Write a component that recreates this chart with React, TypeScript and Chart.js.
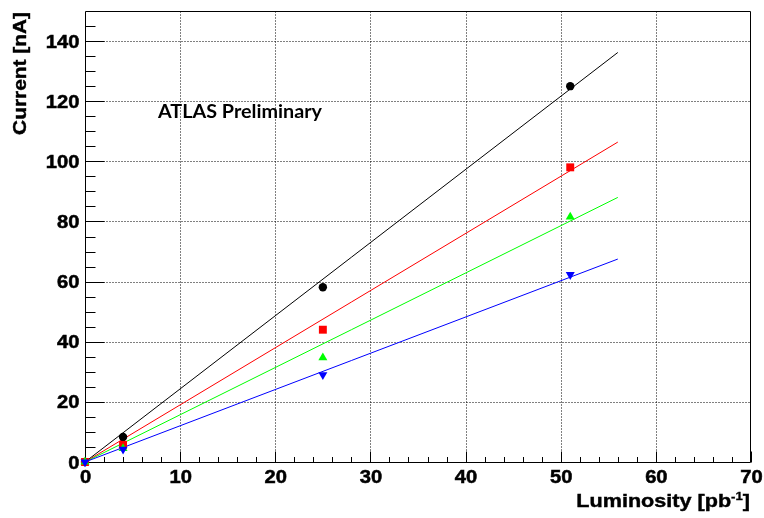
import React, { useEffect, useRef } from "react";
import { Chart, registerables } from "chart.js";

Chart.register(...registerables);

// ---- data ----
const luminosity = [0, 4, 25, 51];
const currentBlack = [0, 8.3, 58.1, 125];
const currentRed = [0, 5.7, 44, 98];
const currentGreen = [0, 4.5, 34.7, 81.5];
const currentBlue = [0, 4.2, 29, 62.3];

const fitRange = [0, 56];
const fitBlack = [0, 136.2];
const fitRed = [0, 106.4];
const fitGreen = [0, 88];
const fitBlue = [0, 67.5];

const xTickLabels = [0, 10, 20, 30, 40, 50, 60, 70];
const yTickLabels = [0, 20, 40, 60, 80, 100, 120, 140];

const xTitle = "Luminosity [pb";
const xTitleSup = "-1";
const yTitle = "Current [nA]";
const atlasLabel = "ATLAS Preliminary";

const toPts = (xs: number[], ys: number[]) => xs.map((x, i) => ({ x, y: ys[i] }));

const AXIS_FONT = '"Liberation Sans", Arial, sans-serif';
const STRETCH = 1.2;
const TICK_STRETCH = 1.12;

function stretchedText(
  ctx: CanvasRenderingContext2D,
  text: string,
  x: number,
  y: number,
  align: CanvasTextAlign,
  sx: number,
  heavy = 0
) {
  ctx.save();
  ctx.translate(x, y);
  ctx.scale(sx, 1);
  ctx.textAlign = align;
  ctx.textBaseline = "alphabetic";
  ctx.fillText(text, 0, 0);
  if (heavy > 0) {
    ctx.lineWidth = heavy;
    ctx.strokeStyle = ctx.fillStyle as string;
    ctx.strokeText(text, 0, 0);
  }
  ctx.restore();
}

const rootStyle = {
  id: "rootStyle",
  beforeDatasetsDraw(chart: any) {
    const ctx: CanvasRenderingContext2D = chart.ctx;
    const { left, right, top, bottom } = chart.chartArea;
    const xs = chart.scales.x;
    const ys = chart.scales.y;
    const L = Math.round(left) + 0.5;
    const R = Math.round(right) - 0.5;
    const T = Math.round(top) + 0.5;
    const B = Math.round(bottom) + 0.5;

    ctx.save();
    ctx.fillStyle = "#fff";
    ctx.fillRect(0, 0, chart.width, chart.height);

    // dotted grid
    ctx.strokeStyle = "#000";
    ctx.lineWidth = 1;
    ctx.setLineDash([1, 2]);
    ctx.beginPath();
    xTickLabels.forEach((v) => {
      const px = Math.round(xs.getPixelForValue(v)) + 0.5;
      if (px <= L + 1 || px >= R - 1) return;
      ctx.moveTo(px, T);
      ctx.lineTo(px, B);
    });
    yTickLabels.forEach((v) => {
      const py = Math.round(ys.getPixelForValue(v)) + 0.5;
      if (py >= B - 1 || py <= T + 1) return;
      ctx.moveTo(L, py);
      ctx.lineTo(R, py);
    });
    ctx.stroke();
    ctx.setLineDash([]);

    // frame
    ctx.beginPath();
    ctx.rect(L, T, R - L, B - T);
    ctx.stroke();

    // ticks
    ctx.beginPath();
    for (let v = 0; v < 150; v += 5) {
      const py = Math.round(ys.getPixelForValue(v)) + 0.5;
      const len = v % 20 === 0 ? 19 : 10;
      ctx.moveTo(L, py);
      ctx.lineTo(L + len, py);
    }
    for (let v = 0; v <= 70; v += 2) {
      const px = Math.round(xs.getPixelForValue(v)) + 0.5;
      const len = v % 10 === 0 ? 11 : 5.5;
      ctx.moveTo(px, B);
      ctx.lineTo(px, B - len);
    }
    ctx.stroke();

    // tick labels
    ctx.fillStyle = "#000";
    ctx.font = `bold 18px ${AXIS_FONT}`;
    yTickLabels.forEach((v) => {
      const py = ys.getPixelForValue(v);
      stretchedText(ctx, String(v), left - 5.5, py + 6.6, "right", TICK_STRETCH, 0.5);
    });
    xTickLabels.forEach((v) => {
      const px = xs.getPixelForValue(v);
      stretchedText(ctx, String(v), px + 0.5, bottom + 21, "center", TICK_STRETCH, 0.5);
    });

    // x title with superscript
    ctx.font = `bold 18px ${AXIS_FONT}`;
    const w1 = ctx.measureText(xTitle).width;
    const w3 = ctx.measureText("]").width;
    ctx.font = `bold 11px ${AXIS_FONT}`;
    const w2 = ctx.measureText(xTitleSup).width;
    const total = (w1 + w2 + w3) * STRETCH;
    const xEnd = right - 1;
    let xStart = xEnd - total;
    const base = 506.5;
    ctx.font = `bold 18px ${AXIS_FONT}`;
    stretchedText(ctx, xTitle, xStart, base, "left", STRETCH, 0.4);
    xStart += w1 * STRETCH;
    ctx.font = `bold 11px ${AXIS_FONT}`;
    stretchedText(ctx, xTitleSup, xStart, base - 7, "left", STRETCH, 0.3);
    xStart += w2 * STRETCH;
    ctx.font = `bold 18px ${AXIS_FONT}`;
    stretchedText(ctx, "]", xStart, base, "left", STRETCH, 0.4);

    // y title rotated
    ctx.save();
    ctx.translate(26, top + 1);
    ctx.rotate(-Math.PI / 2);
    ctx.scale(1.16, 1);
    ctx.font = `bold 18px ${AXIS_FONT}`;
    ctx.textAlign = "right";
    ctx.textBaseline = "alphabetic";
    ctx.fillText(yTitle, 0, 0);
    ctx.lineWidth = 0.4;
    ctx.strokeStyle = "#000";
    ctx.strokeText(yTitle, 0, 0);
    ctx.restore();

    // ATLAS label
    ctx.font = 'bold 18px Lato, "Open Sans", sans-serif';
    const aw = ctx.measureText(atlasLabel).width;
    const targetW = 164;
    stretchedText(ctx, atlasLabel, 158, 118.3, "left", targetW / aw);

    ctx.restore();
  },
};

export default function App() {
  const ref = useRef<HTMLCanvasElement | null>(null);

  useEffect(() => {
    document.body.style.margin = "0";
    const canvas = ref.current;
    if (!canvas) return;

    const marker = (
      label: string,
      ys: number[],
      color: string,
      style: string,
      radius: number,
      rotation: number,
      order: number
    ) => ({
      label,
      data: toPts(luminosity, ys),
      showLine: false,
      pointStyle: style,
      pointRadius: radius,
      pointRotation: rotation,
      pointBackgroundColor: color,
      pointBorderColor: color,
      pointBorderWidth: 0,
      backgroundColor: color,
      borderColor: color,
      clip: false,
      order,
    });

    const fitLine = (label: string, ys: number[], color: string, order: number) => ({
      label,
      data: toPts(fitRange, ys),
      showLine: true,
      borderColor: color,
      borderWidth: 1,
      pointRadius: 0,
      fill: false,
      clip: false,
      order,
    });

    const chart = new Chart(canvas, {
      type: "scatter",
      data: {
        datasets: [
          marker("blue", currentBlue, "#0000ff", "triangle", 5.2, 180, 0),
          marker("green", currentGreen, "#00ff00", "triangle", 5.2, 0, 1),
          marker("red", currentRed, "#ff0000", "rect", 5.6, 0, 2),
          marker("black", currentBlack, "#000000", "circle", 4.2, 0, 3),
          fitLine("blue fit", fitBlue, "#0000ff", 4),
          fitLine("green fit", fitGreen, "#00ff00", 5),
          fitLine("red fit", fitRed, "#ff0000", 6),
          fitLine("black fit", fitBlack, "#000000", 7),
        ] as any,
      },
      options: {
        animation: false,
        responsive: false,
        events: [],
        layout: { padding: { top: 11, right: 13, left: 0, bottom: 0 } },
        plugins: { legend: { display: false }, tooltip: { enabled: false } },
        scales: {
          x: {
            type: "linear",
            min: 0,
            max: 70,
            grid: { display: false },
            border: { display: false },
            ticks: { display: false },
            afterFit: (s: any) => {
              s.height = 56;
            },
          },
          y: {
            type: "linear",
            min: 0,
            max: 150,
            grid: { display: false },
            border: { display: false },
            ticks: { display: false },
            afterFit: (s: any) => {
              s.width = 85;
            },
          },
        },
      } as any,
      plugins: [rootStyle],
    });

    return () => chart.destroy();
  }, []);

  return (
    <div style={{ width: 764, height: 518 }}>
      <canvas ref={ref} width={764} height={518} style={{ display: "block" }} />
    </div>
  );
}
